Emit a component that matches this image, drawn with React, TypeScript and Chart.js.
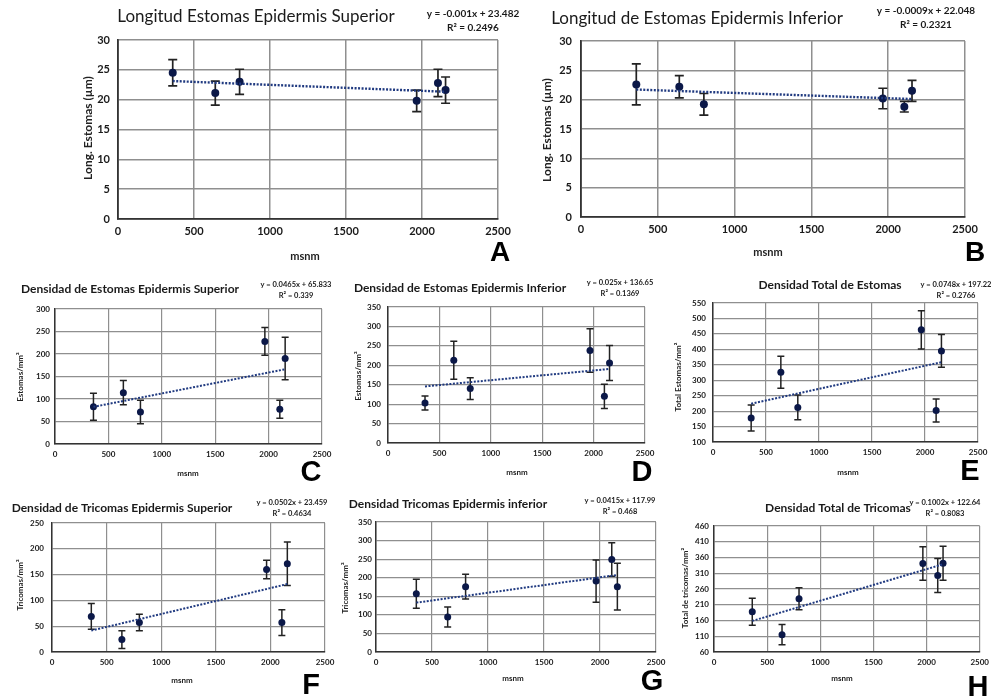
import React, { useEffect, useRef } from "react";
import { Chart, registerables } from "chart.js";

Chart.register(...registerables);

const W = 995;
const H = 700;
const FONT = "Lato, 'Open Sans', sans-serif";
const LETTER_FONT = "'Liberation Sans', Arial, sans-serif";

// ---------- DATA ----------
const altitudes = [360, 640, 800, 1965, 2105, 2155];
const xTickValues = [0, 500, 1000, 1500, 2000, 2500];

const longSupMean = [24.5, 21.1, 23.0, 19.8, 22.8, 21.6];
const longSupErr = [2.2, 2.0, 2.1, 1.8, 2.3, 2.2];
const longInfMean = [22.6, 22.2, 19.2, 20.2, 18.8, 21.5];
const longInfErr = [3.5, 1.9, 1.85, 1.75, 0.9, 1.8];
const densEstSupMean = [83, 114, 71, 228, 77, 190];
const densEstSupErr = [30, 27, 26, 31, 20, 47];
const densEstInfMean = [103, 213, 140, 238, 120, 206];
const densEstInfErr = [18, 49, 28, 56, 31, 45];
const densEstTotMean = [178, 326, 212, 463, 202, 395];
const densEstTotErr = [42, 52, 40, 62, 37, 53];
const densTriSupMean = [69, 24, 57, 160, 57, 171];
const densTriSupErr = [25, 17, 16, 18, 25, 42];
const densTriInfMean = [157, 94, 176, 191, 249, 176];
const densTriInfErr = [39, 27, 33, 57, 45, 63];
const densTriTotMean = [188, 115, 229, 341, 303, 342];
const densTriTotErr = [43, 32, 35, 53, 54, 54];

const yTicksLong = [0, 5, 10, 15, 20, 25, 30];
const yTicks300 = [0, 50, 100, 150, 200, 250, 300];
const yTicks350 = [0, 50, 100, 150, 200, 250, 300, 350];
const yTicksTotEst = [100, 150, 200, 250, 300, 350, 400, 450, 500, 550];
const yTicks250 = [0, 50, 100, 150, 200, 250];
const yTicksTotTri = [60, 110, 160, 210, 260, 310, 360, 410, 460];

const trendLongSup = { slope: -0.001, intercept: 23.482, r2: 0.2496 };
const trendLongInf = { slope: -0.0009, intercept: 22.048, r2: 0.2321 };
const trendEstSup = { slope: 0.0465, intercept: 65.833, r2: 0.339 };
const trendEstInf = { slope: 0.025, intercept: 136.65, r2: 0.1369 };
const trendEstTot = { slope: 0.0748, intercept: 197.22, r2: 0.2766 };
const trendTriSup = { slope: 0.0502, intercept: 23.459, r2: 0.4634 };
const trendTriInf = { slope: 0.0415, intercept: 117.99, r2: 0.468 };
const trendTriTot = { slope: 0.1002, intercept: 122.64, r2: 0.8083 };

// ---------- LAYOUT ----------
type Panel = {
  letter: string;
  big: boolean;
  title: string;
  yTitle: string;
  mean: number[];
  err: number[];
  trend: { slope: number; intercept: number; r2: number };
  yTicks: number[];
  area: { l: number; t: number; r: number; b: number };
  titlePos: [number, number];
  eqPos: [number, number];
  yTitlePos: [number, number];
  xTitlePos: [number, number];
  letterPos: [number, number];
  yPad: number;
  xPad: number;
};

const panels: Panel[] = [
  {
    letter: "A", big: true, title: "Longitud Estomas Epidermis Superior", yTitle: "Long. Estomas (µm)",
    mean: longSupMean, err: longSupErr, trend: trendLongSup, yTicks: yTicksLong,
    area: { l: 118, t: 40, r: 498, b: 219 }, titlePos: [256, 17], eqPos: [473, 14],
    yTitlePos: [88, 128], xTitlePos: [305, 256], letterPos: [500, 253], yPad: 8, xPad: 6,
  },
  {
    letter: "B", big: true, title: "Longitud de Estomas Epidermis Inferior", yTitle: "Long. Estomas (µm)",
    mean: longInfMean, err: longInfErr, trend: trendLongInf, yTicks: yTicksLong,
    area: { l: 581, t: 41, r: 965, b: 217 }, titlePos: [697, 19], eqPos: [926, 11],
    yTitlePos: [547, 130], xTitlePos: [768, 252], letterPos: [975, 253], yPad: 9, xPad: 6,
  },
  {
    letter: "C", big: false, title: "Densidad de Estomas Epidermis Superior", yTitle: "Estomas/mm²",
    mean: densEstSupMean, err: densEstSupErr, trend: trendEstSup, yTicks: yTicks300,
    area: { l: 55, t: 309, r: 322, b: 444 }, titlePos: [130, 289], eqPos: [296, 285],
    yTitlePos: [20, 377], xTitlePos: [188, 473], letterPos: [311, 473], yPad: 5, xPad: 6,
  },
  {
    letter: "D", big: false, title: "Densidad de Estomas Epidermis Inferior", yTitle: "Estomas/mm²",
    mean: densEstInfMean, err: densEstInfErr, trend: trendEstInf, yTicks: yTicks350,
    area: { l: 388, t: 307, r: 645, b: 443 }, titlePos: [460, 288], eqPos: [620, 283],
    yTitlePos: [358, 376], xTitlePos: [517, 472], letterPos: [642, 473], yPad: 7, xPad: 6,
  },
  {
    letter: "E", big: false, title: "Densidad Total de Estomas", yTitle: "Total Estomas/mm²",
    mean: densEstTotMean, err: densEstTotErr, trend: trendEstTot, yTicks: yTicksTotEst,
    area: { l: 713, t: 303, r: 978, b: 442 }, titlePos: [830, 285], eqPos: [956, 285],
    yTitlePos: [678, 377], xTitlePos: [848, 472], letterPos: [970, 472], yPad: 7, xPad: 6,
  },
  {
    letter: "F", big: false, title: "Densidad de Tricomas Epidermis Superior", yTitle: "Tricomas/mm²",
    mean: densTriSupMean, err: densTriSupErr, trend: trendTriSup, yTicks: yTicks250,
    area: { l: 52, t: 523, r: 325, b: 652 }, titlePos: [122, 508], eqPos: [292, 503],
    yTitlePos: [20, 585], xTitlePos: [182, 680], letterPos: [311, 686], yPad: 8, xPad: 6,
  },
  {
    letter: "G", big: false, title: "Densidad Tricomas Epidermis inferior", yTitle: "Tricomas/mm²",
    mean: densTriInfMean, err: densTriInfErr, trend: trendTriInf, yTicks: yTicks350,
    area: { l: 376, t: 522, r: 656, b: 652 }, titlePos: [448, 504], eqPos: [620, 501],
    yTitlePos: [345, 588], xTitlePos: [513, 678], letterPos: [652, 682], yPad: 4, xPad: 6,
  },
  {
    letter: "H", big: false, title: "Densidad Total de Tricomas", yTitle: "Total de tricomas/mm²",
    mean: densTriTotMean, err: densTriTotErr, trend: trendTriTot, yTicks: yTicksTotTri,
    area: { l: 714, t: 526, r: 986, b: 652 }, titlePos: [838, 508], eqPos: [945, 503],
    yTitlePos: [685, 588], xTitlePos: [842, 678], letterPos: [978, 688], yPad: 5, xPad: 6,
  },
];

const Y_W = 30;
const X_H = 30;

const errorBarPlugin = {
  id: "errorBars",
  beforeDatasetsDraw(chart: any, _args: any, opts: any) {
    const ds = chart.data.datasets[1];
    const errs: number[] = ds.errors;
    const xs = chart.scales.x;
    const ys = chart.scales.y;
    const ctx = chart.ctx;
    ctx.save();
    ctx.strokeStyle = "#222222";
    ctx.lineWidth = opts.lineWidth;
    ds.data.forEach((pt: any, i: number) => {
      const px = xs.getPixelForValue(pt.x);
      const top = ys.getPixelForValue(pt.y + errs[i]);
      const bot = ys.getPixelForValue(pt.y - errs[i]);
      ctx.beginPath();
      ctx.moveTo(px, top);
      ctx.lineTo(px, bot);
      ctx.moveTo(px - opts.cap, top);
      ctx.lineTo(px + opts.cap, top);
      ctx.moveTo(px - opts.cap, bot);
      ctx.lineTo(px + opts.cap, bot);
      ctx.stroke();
    });
    ctx.restore();
  },
};

function textPlugin(p: Panel) {
  return {
    id: "panelText",
    afterDraw(chart: any) {
      const ctx = chart.ctx;
      const big = p.big;
      ctx.save();
      ctx.textAlign = "center";
      ctx.textBaseline = "middle";
      // title
      ctx.fillStyle = "#1a1a1a";
      ctx.font = big ? `400 17px ${FONT}` : `700 12px ${FONT}`;
      ctx.fillText(p.title, p.titlePos[0], p.titlePos[1]);
      // equation
      const t = p.trend;
      const sign = t.intercept >= 0 ? "+" : "-";
      ctx.font = big ? `700 10px ${FONT}` : `700 7.5px ${FONT}`;
      ctx.fillText(`y = ${t.slope}x ${sign} ${Math.abs(t.intercept)}`, p.eqPos[0], p.eqPos[1]);
      ctx.fillText(`R² = ${t.r2}`, p.eqPos[0], p.eqPos[1] + (big ? 14 : 11));
      // x title
      ctx.font = big ? `700 11px ${FONT}` : `700 8px ${FONT}`;
      ctx.fillStyle = "#222";
      ctx.fillText("msnm", p.xTitlePos[0], p.xTitlePos[1]);
      // y title
      ctx.save();
      ctx.translate(p.yTitlePos[0], p.yTitlePos[1]);
      ctx.rotate(-Math.PI / 2);
      ctx.font = big ? `700 12px ${FONT}` : `700 8px ${FONT}`;
      ctx.fillText(p.yTitle, 0, 0);
      ctx.restore();
      // letter
      ctx.fillStyle = "#000";
      ctx.font = `700 ${big ? 28 : 29}px ${LETTER_FONT}`;
      ctx.fillText(p.letter, p.letterPos[0], p.letterPos[1]);
      ctx.restore();
    },
  };
}

function makeConfig(p: Panel): any {
  const tx = [Math.min(...altitudes), Math.max(...altitudes)];
  const big = p.big;
  const tickFont = { family: FONT, size: big ? 11 : 8, weight: "bold" as const };
  const gridColor = "#8f8f8f";
  const gridWidth = big ? 1.5 : 1.2;
  return {
    type: "scatter",
    data: {
      datasets: [
        {
          data: tx.map((x) => ({ x, y: p.trend.slope * x + p.trend.intercept })),
          showLine: true,
          borderColor: "#203a80",
          borderWidth: big ? 2.4 : 2,
          borderDash: [2, 1.5],
          pointRadius: 0,
          fill: false,
        },
        {
          data: altitudes.map((x, i) => ({ x, y: p.mean[i] })),
          errors: p.err,
          backgroundColor: "#0b1848",
          borderColor: "#0b1848",
          pointRadius: big ? 4 : 3.5,
          pointBorderWidth: 0,
        },
      ],
    },
    options: {
      animation: false,
      responsive: false,
      devicePixelRatio: 1,
      events: [],
      layout: {
        padding: {
          left: p.area.l - Y_W,
          top: p.area.t,
          right: W - p.area.r,
          bottom: H - p.area.b - X_H,
        },
      },
      plugins: {
        legend: { display: false },
        tooltip: { enabled: false },
        title: { display: false },
        errorBars: { cap: big ? 4.5 : 3.5, lineWidth: big ? 1.7 : 1.5 },
      },
      scales: {
        x: {
          type: "linear",
          min: 0,
          max: 2500,
          afterBuildTicks: (s: any) => {
            s.ticks = xTickValues.map((v) => ({ value: v }));
          },
          afterFit: (s: any) => {
            s.height = X_H;
          },
          ticks: {
            font: tickFont,
            color: "#1a1a1a",
            padding: p.xPad,
            maxRotation: 0,
            autoSkip: false,
            callback: (v: any) => String(v),
          },
          grid: { color: gridColor, lineWidth: gridWidth, drawTicks: false },
          border: { color: "#333", width: big ? 1.8 : 1.5 },
        },
        y: {
          type: "linear",
          min: p.yTicks[0],
          max: p.yTicks[p.yTicks.length - 1],
          afterBuildTicks: (s: any) => {
            s.ticks = p.yTicks.map((v) => ({ value: v }));
          },
          afterFit: (s: any) => {
            s.width = Y_W;
          },
          ticks: {
            font: tickFont,
            color: "#1a1a1a",
            padding: p.yPad,
            autoSkip: false,
            callback: (v: any) => String(v),
          },
          grid: { color: gridColor, lineWidth: gridWidth, drawTicks: false },
          border: { color: "#333", width: big ? 1.8 : 1.5 },
        },
      },
    },
    plugins: [errorBarPlugin, textPlugin(p)],
  };
}

export default function App() {
  const refs = useRef<(HTMLCanvasElement | null)[]>([]);

  useEffect(() => {
    const charts = panels.map((p, i) => {
      const c = refs.current[i]!;
      return new Chart(c, makeConfig(p));
    });
    return () => charts.forEach((c) => c.destroy());
  }, []);

  return (
    <div style={{ position: "absolute", left: 0, top: 0, width: W, height: H, background: "#fff", overflow: "hidden" }}>
      {panels.map((p, i) => (
        <canvas
          key={p.letter}
          ref={(el) => {
            refs.current[i] = el;
          }}
          width={W}
          height={H}
          style={{ position: "absolute", left: 0, top: 0, width: W, height: H }}
        />
      ))}
    </div>
  );
}
